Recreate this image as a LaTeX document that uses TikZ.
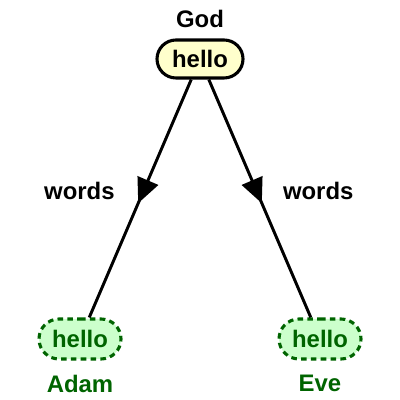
\documentclass[tikz,border=0pt]{standalone}
\usepackage{fontspec}
\setmainfont{Liberation Sans}
\usetikzlibrary{arrows.meta, positioning, shapes.misc, decorations.markings}
\definecolor{myyellow}{RGB}{255, 255, 204}
\definecolor{mygreen}{RGB}{204, 255, 204}
\definecolor{mydarkgreen}{RGB}{0, 100, 0}

\begin{document}
\begin{tikzpicture}[
  font=\bfseries\fontsize{17}{19}\selectfont,
  godbox/.style={rounded rectangle, draw=black, fill=myyellow, line width=2.2pt,
                 minimum width=2.15cm, minimum height=0.95cm, inner sep=0pt},
  childbox/.style={rounded rectangle, draw=mydarkgreen, fill=mygreen, line width=2.2pt,
                   dash pattern=on 4pt off 3pt, text=mydarkgreen,
                   minimum width=2.05cm, minimum height=1.0cm, inner sep=0pt},
  lbl/.style={inner sep=0pt},
  childlbl/.style={inner sep=0pt, text=mydarkgreen},
  link/.style={line width=2.1pt, postaction={decorate},
               decoration={markings, mark=at position 0.52 with
                 {\arrow{Triangle[length=0.62cm, width=0.55cm]}}}}
]
\useasboundingbox (0,0) rectangle (10,10);

% top
\node[godbox] (god) at (5,8.525) {hello};
\node[lbl, above=0.26cm of god] (godlbl) {God};

% children
\node[childbox] (adam) at (2,1.525) {hello};
\node[childlbl, below=0.35cm of adam] (adamlbl) {Adam};
\node[childbox] (eve) at (8,1.525) {hello};
\node[childlbl, below=0.35cm of eve] (evelbl) {Eve};

% links
\draw[link] (god) -- node[lbl, pos=0.47, left=0.68cm] (w1) {words} (adam);
\draw[link] (god) -- node[lbl, pos=0.47, right=0.62cm] (w2) {words} (eve);

\end{tikzpicture}
\end{document}
